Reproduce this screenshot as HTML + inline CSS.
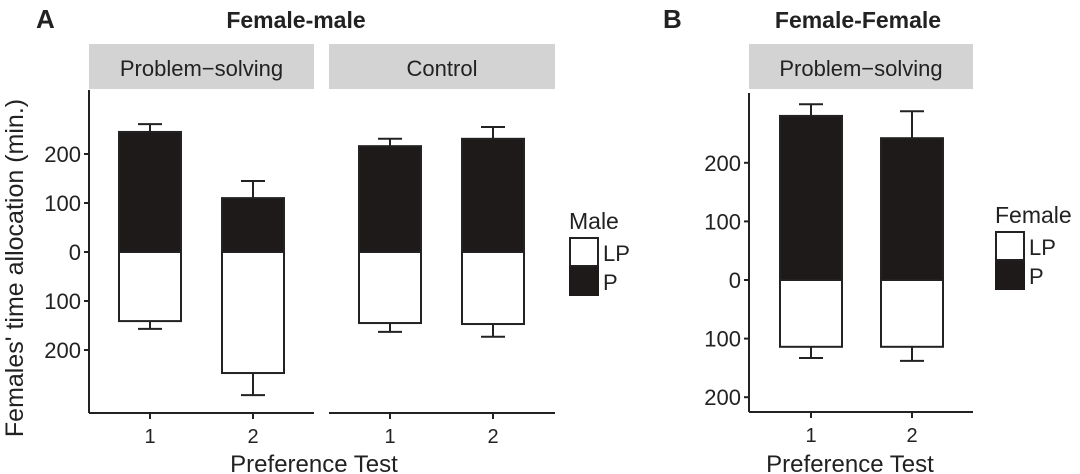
<!DOCTYPE html>
<html><head><meta charset="utf-8"><style>
html,body{margin:0;padding:0;background:#fff;}
svg{display:block;font-family:"Liberation Sans",Arial,sans-serif;}
</style></head><body>
<svg id="chart" width="1080" height="474" viewBox="0 0 1080 474">
<g id="g"></g>
</svg>
<script>
// Data
const categories = ["1", "2"];
const aProblemP = [245, 110];
const aProblemPErr = [261, 145];
const aProblemLP = [141, 247];
const aProblemLPErr = [157, 292];
const aControlP = [216, 231];
const aControlPErr = [231, 255];
const aControlLP = [145, 147];
const aControlLPErr = [163, 173];
const bProblemP = [280, 242];
const bProblemPErr = [300, 288];
const bProblemLP = [114, 114];
const bProblemLPErr = [133, 138];
const yTicks = [200, 100, 0, -100, -200];
const yTickLabels = ["200", "100", "0", "100", "200"];

const NS = "http://www.w3.org/2000/svg";
const root = document.getElementById('g');
function mk(tag, attrs, parent, text){
  const e = document.createElementNS(NS, tag);
  for (const k in attrs) e.setAttribute(k, attrs[k]);
  if (text !== undefined) e.textContent = text;
  (parent||root).appendChild(e);
  return e;
}
function txt(x,y,s,size,anchor,weight,name){
  const t = mk('text',{x:x,y:y,'font-size':size,'text-anchor':anchor||'middle','font-weight':weight||'normal',fill:'#222'},root,s);
  
  
  return t;
}

function panel(cfg){
  const g = mk('g',{});
  
  
  const y = v => cfg.zero - v*cfg.scale;
  const xc = i => cfg.x0 + cfg.xStart + i*cfg.step;
  const s = mk('rect',{x:cfg.x0,y:44,width:cfg.x1-cfg.x0,height:45,fill:'#d3d3d3'},g);
  
  
  const st = mk('text',{x:(cfg.x0+cfg.x1)/2,y:76,'font-size':22,'text-anchor':'middle',fill:'#222'},g,cfg.strip);
  
  
  mk('line',{x1:cfg.x0,y1:cfg.bottom,x2:cfg.x1,y2:cfg.bottom,stroke:'#222','stroke-width':2},g);
  if (cfg.yAxis){
    mk('line',{x1:cfg.x0,y1:cfg.top,x2:cfg.x0,y2:cfg.bottom,stroke:'#222','stroke-width':2},g);
    yTicks.forEach((v,i)=>{
      mk('line',{x1:cfg.x0-5,y1:y(v),x2:cfg.x0,y2:y(v),stroke:'#222','stroke-width':2},g);
      const t = mk('text',{x:cfg.x0-8,y:y(v)+8,'font-size':22,'text-anchor':'end',fill:'#222'},g,yTickLabels[i]);
      
      
    });
  }
  categories.forEach((c,i)=>{
    const cx = xc(i);
    mk('line',{x1:cx,y1:cfg.bottom,x2:cx,y2:cfg.bottom+6,stroke:'#222','stroke-width':2},g);
    const t = mk('text',{x:cx,y:cfg.bottom+30,'font-size':20,'text-anchor':'middle',fill:'#222'},g,c);
    
    
    const w = 62, bx = cx - w/2;
    const e1 = mk('path',{d:`M${cx},${y(cfg.P[i])}V${y(cfg.PE[i])}M${cx-12},${y(cfg.PE[i])}H${cx+12}`,stroke:'#222','stroke-width':2,fill:'none'},g);
    
    
    const e2 = mk('path',{d:`M${cx},${y(-cfg.LP[i])}V${y(-cfg.LPE[i])}M${cx-12},${y(-cfg.LPE[i])}H${cx+12}`,stroke:'#222','stroke-width':2,fill:'none'},g);
    
    
    const b1 = mk('rect',{x:bx,y:y(cfg.P[i]),width:w,height:cfg.P[i]*cfg.scale,fill:'#1e1a1a',stroke:'#222','stroke-width':2},g);
    
    
    const b2 = mk('rect',{x:bx,y:y(0),width:w,height:cfg.LP[i]*cfg.scale,fill:'#fff',stroke:'#222','stroke-width':2},g);
    
    
  });
}

panel({name:'panel-a-problem-solving',strip:'Problem\u2212solving',x0:89,x1:314,xStart:61,step:103,zero:252,scale:0.49,top:90,bottom:413,yAxis:true,P:aProblemP,PE:aProblemPErr,LP:aProblemLP,LPE:aProblemLPErr});
panel({name:'panel-a-control',strip:'Control',x0:329,x1:555,xStart:61,step:103,zero:252,scale:0.49,top:90,bottom:413,yAxis:false,P:aControlP,PE:aControlPErr,LP:aControlLP,LPE:aControlLPErr});
panel({name:'panel-b-problem-solving',strip:'Problem\u2212solving',x0:749,x1:973,xStart:62,step:101,zero:280,scale:0.586,top:93,bottom:412,yAxis:true,P:bProblemP,PE:bProblemPErr,LP:bProblemLP,LPE:bProblemLPErr});

txt(36,28,'A',26,'start','bold','panel-a-label');
txt(296,28,'Female-male',23,'middle','bold','panel-a-title');
txt(663,28,'B',26,'start','bold','panel-b-label');
txt(858,28,'Female-Female',23,'middle','bold','panel-b-title');
txt(314,472,'Preference Test',24,'middle','normal','x-axis-title-a');
txt(850,472,'Preference Test',24,'middle','normal','x-axis-title-b');
const yt = mk('text',{x:0,y:0,'font-size':25,'text-anchor':'middle',fill:'#222',transform:'translate(23,268) rotate(-90)'},root,"Females' time allocation (min.)");



function legend(x,ty,title,name){
  const g = mk('g',{});
  
  
  const t = mk('text',{x:x,y:ty,'font-size':23,fill:'#222'},g,title);
  
  
  const r1 = mk('rect',{x:x+1,y:ty+9,width:28,height:28,fill:'#fff',stroke:'#222','stroke-width':2},g);
  
  
  const r2 = mk('rect',{x:x,y:ty+38,width:30,height:29,fill:'#1e1a1a'},g);
  
  
  const l1 = mk('text',{x:x+34,y:ty+32,'font-size':22,fill:'#222'},g,'LP');
  
  
  const l2 = mk('text',{x:x+34,y:ty+61,'font-size':22,fill:'#222'},g,'P');
  
  
}
legend(569,229,'Male','legend-male');
legend(995,223,'Female','legend-female');
</script>
</body></html>
